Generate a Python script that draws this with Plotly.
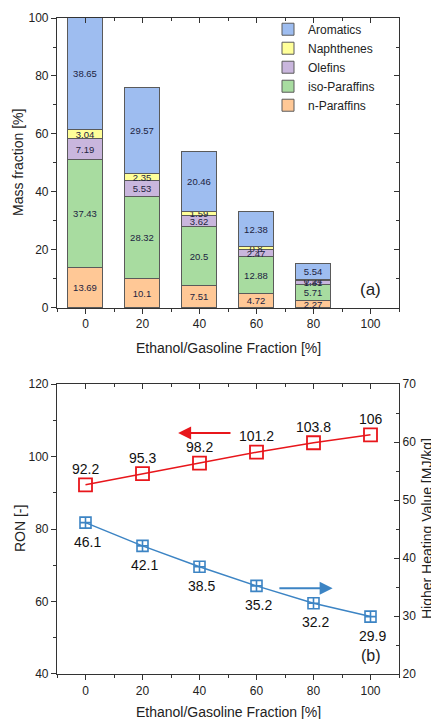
import plotly.graph_objects as go

# ---------------- data ----------------
fractions = [0, 20, 40, 60, 80, 100]
n_paraffins = [13.69, 10.1, 7.51, 4.72, 2.27, 0]
iso_paraffins = [37.43, 28.32, 20.5, 12.88, 5.71, 0]
olefins = [7.19, 5.53, 3.62, 2.47, 1.31, 0]
naphthenes = [3.04, 2.35, 1.59, 0.8, 0.24, 0]
aromatics = [38.65, 29.57, 20.46, 12.38, 5.54, 0]

ron = [92.2, 95.3, 98.2, 101.2, 103.8, 106]
hhv = [46.1, 42.1, 38.5, 35.2, 32.2, 29.9]

series = [
    ("n-Paraffins", n_paraffins, "#FFC896"),
    ("iso-Paraffins", iso_paraffins, "#A8DCA0"),
    ("Olefins", olefins, "#C9B6DD"),
    ("Naphthenes", naphthenes, "#FFFF99"),
    ("Aromatics", aromatics, "#9EBDF0"),
]

FONT = "Liberation Sans, Arial, sans-serif"
AX = "#333333"
RED = "#E8161B"
BLUE = "#3C84C4"

fig = go.Figure()

for name, vals, col in series:
    fig.add_trace(go.Bar(
        x=fractions, y=vals, name=name, width=12,
        marker=dict(color=col, line=dict(color="#5a5a5a", width=[1 if v else 0 for v in vals])),
        text=[f"{v:g}" if v else "" for v in vals],
        textposition="inside", insidetextanchor="middle", textangle=0,
        textfont=dict(size=9.5, color="#1d2340", family=FONT),
        xaxis="x", yaxis="y",
    ))

fig.add_trace(go.Scatter(
    x=fractions, y=ron, mode="lines+markers",
    line=dict(color=RED, width=1.5),
    marker=dict(symbol="square-open", size=13, color=RED, line=dict(width=1.8)),
    showlegend=False, xaxis="x2", yaxis="y2",
))
fig.add_trace(go.Scatter(
    x=fractions, y=hhv, mode="lines+markers",
    line=dict(color=BLUE, width=1.5),
    marker=dict(symbol="square-cross-open", size=11, color=BLUE, line=dict(width=1.6)),
    showlegend=False, xaxis="x2", yaxis="y3",
))

for f, v in zip(fractions, ron):
    fig.add_annotation(xref="x2", yref="y2", x=f, y=v, text=f"{v:g}", showarrow=False,
                       yshift=16, xshift=0, font=dict(size=14, color="#111", family=FONT))
for f, v in zip(fractions, hhv):
    fig.add_annotation(xref="x2", yref="y3", x=f, y=v, text=f"{v:g}", showarrow=False,
                       yshift=-19, xshift=2, font=dict(size=14, color="#111", family=FONT))

common_x = dict(range=[-10, 110], tickvals=[0, 20, 40, 60, 80, 100],
                ticks="outside", ticklen=5, tickwidth=1, tickcolor=AX,
                minor=dict(dtick=10, ticks="outside", ticklen=3, tickcolor=AX),
                showline=True, linecolor=AX, linewidth=1.2, showgrid=False,
                zeroline=False, tickfont=dict(size=12, color="#222", family=FONT))
deco = dict(showline=True, linecolor=AX, linewidth=1.2, showgrid=False, zeroline=False,
            ticks="inside", ticklen=5, tickcolor=AX, showticklabels=False)

fig.update_layout(
    width=439, height=719,
    margin=dict(l=49, r=48, t=10, b=53, autoexpand=False),
    paper_bgcolor="white", plot_bgcolor="white",
    barmode="stack", bargap=0,
    font=dict(family=FONT, color="#222"),
    showlegend=True,
    legend=dict(x=0.617, y=1.005, xanchor="left", yanchor="top",
                traceorder="reversed", font=dict(size=12, color="#222", family=FONT),
                bgcolor="rgba(0,0,0,0)", itemwidth=30, tracegroupgap=0),
    uniformtext=dict(minsize=9.5, mode="show"),
    xaxis=dict(domain=[0, 1], anchor="y", **common_x),
    yaxis=dict(domain=[0.558, 1], anchor="x", range=[0, 100], tickvals=[0, 20, 40, 60, 80, 100],
               ticks="outside", ticklen=5, tickcolor=AX,
               minor=dict(dtick=10, ticks="outside", ticklen=3, tickcolor=AX),
               showline=True, linecolor=AX, linewidth=1.2, showgrid=False, zeroline=False,
               tickfont=dict(size=12, color="#222", family=FONT)),
    xaxis2=dict(domain=[0, 1], anchor="y2", **common_x),
    yaxis2=dict(domain=[0, 0.442], anchor="x2", range=[40, 120], tickvals=[40, 60, 80, 100, 120],
                ticks="outside", ticklen=5, tickcolor=AX,
                minor=dict(dtick=10, ticks="outside", ticklen=3, tickcolor=AX),
                showline=True, linecolor=AX, linewidth=1.2, showgrid=False, zeroline=False,
                tickfont=dict(size=12, color="#222", family=FONT)),
    yaxis3=dict(overlaying="y2", side="right", anchor="x2", range=[20, 70],
                tickvals=[20, 30, 40, 50, 60, 70], ticks="inside", ticklen=5, tickcolor=AX,
                minor=dict(dtick=5, ticks="inside", ticklen=3, tickcolor=AX),
                showline=True, linecolor=AX, linewidth=1.2, showgrid=False, zeroline=False,
                tickfont=dict(size=12, color="#222", family=FONT)),
    # mirrored frames with inward ticks
    xaxis3=dict(overlaying="x", side="top", anchor="y", range=[-10, 110],
                tickvals=[0, 20, 40, 60, 80, 100],
                minor=dict(dtick=10, ticks="inside", ticklen=3, tickcolor=AX), **deco),
    yaxis4=dict(overlaying="y", side="right", anchor="x", range=[0, 100],
                tickvals=[0, 20, 40, 60, 80, 100],
                minor=dict(dtick=10, ticks="inside", ticklen=3, tickcolor=AX), **deco),
    xaxis4=dict(overlaying="x2", side="top", anchor="y2", range=[-10, 110],
                tickvals=[0, 20, 40, 60, 80, 100],
                minor=dict(dtick=10, ticks="inside", ticklen=3, tickcolor=AX), **deco),
)

fig.add_trace(go.Scatter(x=[None], y=[None], xaxis="x3", yaxis="y4", showlegend=False, hoverinfo="skip"))
fig.add_trace(go.Scatter(x=[None], y=[None], xaxis="x4", yaxis="y2", showlegend=False, hoverinfo="skip"))

ann = [
    dict(text="Mass fraction [%]", x=-0.114, y=0.779, textangle=-90),
    dict(text="RON [-]", x=-0.108, y=0.221, textangle=-90),
    dict(text="Higher Heating Value [MJ/kg]", x=1.082, y=0.221, textangle=-90),
    dict(text="Ethanol/Gasoline Fraction [%]", x=0.5, y=0.497),
    dict(text="Ethanol/Gasoline Fraction [%]", x=0.5, y=-0.058),
]
for a in ann:
    fig.add_annotation(xref="paper", yref="paper", showarrow=False,
                       xanchor="center", yanchor="middle",
                       font=dict(size=14, color="#222", family=FONT),
                       text=a["text"], x=a["x"], y=a["y"], textangle=a.get("textangle", 0))

fig.add_annotation(xref="x", yref="y", x=100, y=6.2, text="(a)", showarrow=False,
                   font=dict(size=17, color="#222", family=FONT))
fig.add_annotation(xref="x2", yref="y2", x=100, y=45, text="(b)", showarrow=False,
                   font=dict(size=16, color="#222", family=FONT))

fig.add_annotation(xref="x2", yref="y2", axref="x2", ayref="y2",
                   x=32.5, y=106.5, ax=51.4, ay=106.5, text="",
                   showarrow=True, arrowhead=2, arrowsize=1.3, arrowwidth=2, arrowcolor=RED)
fig.add_annotation(xref="x2", yref="y3", axref="x2", ayref="y3",
                   x=86.7, y=34.8, ax=67.5, ay=34.8, text="",
                   showarrow=True, arrowhead=2, arrowsize=1.3, arrowwidth=2, arrowcolor=BLUE)

fig.write_html("out.html")
